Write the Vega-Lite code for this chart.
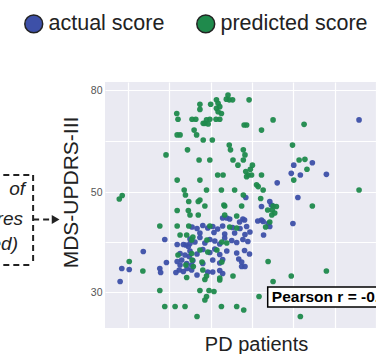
{
"$schema":"https://vega.github.io/schema/vega-lite/v6.json",
"width":271,"height":246,
"autosize":{"type":"none"},
"padding":{"left":105,"top":82,"right":0,"bottom":26},
"background":"white",
"config":{"view":{"fill":"#EAEAF2","stroke":null},"axis":{"domain":false,"ticks":false,"gridColor":"white","gridWidth":1.2,"labelFont":"Liberation Sans","titleFont":"Liberation Sans"}},
"datasets":{
"pts":[
{"x":65.9,"y":71.2,"c":"actual score"},{"x":50.1,"y":57.9,"c":"actual score"},{"x":49.5,"y":55.5,"c":"actual score"},{"x":51.7,"y":55.0,"c":"actual score"},{"x":54.6,"y":58.6,"c":"actual score"},{"x":58.0,"y":55.2,"c":"actual score"},{"x":46.1,"y":52.7,"c":"actual score"},{"x":51.1,"y":48.9,"c":"actual score"},{"x":44.3,"y":48.1,"c":"actual score"},{"x":44.7,"y":47.4,"c":"actual score"},{"x":42.3,"y":47.1,"c":"actual score"},{"x":38.5,"y":48.9,"c":"actual score"},
{"x":18.9,"y":40.5,"c":"actual score"},{"x":13.7,"y":38.1,"c":"actual score"},{"x":8.5,"y":34.7,"c":"actual score"},{"x":10.3,"y":34.5,"c":"actual score"},{"x":8.1,"y":32.1,"c":"actual score"},{"x":17.7,"y":34.7,"c":"actual score"},{"x":17.9,"y":33.9,"c":"actual score"},{"x":19.3,"y":35.9,"c":"actual score"},{"x":21.9,"y":39.5,"c":"actual score"},{"x":23.4,"y":39.5,"c":"actual score"},{"x":24.0,"y":39.4,"c":"actual score"},{"x":24.6,"y":39.1,"c":"actual score"},{"x":25.0,"y":39.7,"c":"actual score"},{"x":49.9,"y":43.7,"c":"actual score"},{"x":42.3,"y":44.4,"c":"actual score"},{"x":42.7,"y":44.1,"c":"actual score"},{"x":32.9,"y":44.8,"c":"actual score"},{"x":33.9,"y":44.8,"c":"actual score"},{"x":34.6,"y":44.6,"c":"actual score"},{"x":37.8,"y":44.6,"c":"actual score"},{"x":38.2,"y":44.4,"c":"actual score"},{"x":37.0,"y":44.0,"c":"actual score"},{"x":41.4,"y":44.2,"c":"actual score"},{"x":43.9,"y":43.7,"c":"actual score"},{"x":44.3,"y":43.1,"c":"actual score"},{"x":42.8,"y":41.4,"c":"actual score"},{"x":37.5,"y":35.1,"c":"actual score"},{"x":38.3,"y":35.1,"c":"actual score"},
{"x":25.5,"y":43.0,"c":"actual score"},{"x":26.7,"y":42.7,"c":"actual score"},{"x":28.1,"y":43.3,"c":"actual score"},{"x":29.3,"y":42.8,"c":"actual score"},{"x":30.5,"y":43.1,"c":"actual score"},{"x":31.7,"y":42.6,"c":"actual score"},{"x":32.9,"y":43.2,"c":"actual score"},{"x":35.3,"y":42.9,"c":"actual score"},{"x":37.1,"y":42.7,"c":"actual score"},{"x":38.7,"y":43.1,"c":"actual score"},
{"x":27.4,"y":41.8,"c":"actual score"},{"x":33.4,"y":41.6,"c":"actual score"},{"x":35.8,"y":41.8,"c":"actual score"},{"x":38.3,"y":41.5,"c":"actual score"},{"x":39.5,"y":42.0,"c":"actual score"},{"x":30.8,"y":41.9,"c":"actual score"},
{"x":25.0,"y":40.6,"c":"actual score"},{"x":26.2,"y":40.0,"c":"actual score"},{"x":27.4,"y":40.9,"c":"actual score"},{"x":28.6,"y":39.8,"c":"actual score"},{"x":29.8,"y":40.5,"c":"actual score"},{"x":31.0,"y":40.2,"c":"actual score"},{"x":32.2,"y":39.6,"c":"actual score"},{"x":33.4,"y":40.8,"c":"actual score"},{"x":35.1,"y":40.3,"c":"actual score"},{"x":36.3,"y":39.9,"c":"actual score"},{"x":37.8,"y":40.5,"c":"actual score"},{"x":39.0,"y":40.1,"c":"actual score"},
{"x":25.0,"y":38.2,"c":"actual score"},{"x":26.7,"y":37.6,"c":"actual score"},{"x":28.1,"y":38.5,"c":"actual score"},{"x":29.8,"y":37.9,"c":"actual score"},{"x":31.0,"y":38.6,"c":"actual score"},{"x":32.2,"y":37.5,"c":"actual score"},{"x":33.9,"y":38.2,"c":"actual score"},{"x":36.3,"y":37.8,"c":"actual score"},{"x":38.2,"y":38.3,"c":"actual score"},{"x":39.4,"y":37.6,"c":"actual score"},
{"x":25.7,"y":36.3,"c":"actual score"},{"x":28.1,"y":35.7,"c":"actual score"},{"x":30.5,"y":36.4,"c":"actual score"},{"x":32.2,"y":35.8,"c":"actual score"},{"x":32.9,"y":36.5,"c":"actual score"},{"x":37.5,"y":36.0,"c":"actual score"},{"x":36.8,"y":36.6,"c":"actual score"},
{"x":30.5,"y":34.0,"c":"actual score"},{"x":32.2,"y":34.3,"c":"actual score"},{"x":32.9,"y":33.7,"c":"actual score"},{"x":26.7,"y":33.4,"c":"actual score"},{"x":29.3,"y":34.0,"c":"actual score"},
{"x":22.6,"y":37.7,"c":"actual score"},{"x":23.8,"y":37.4,"c":"actual score"},{"x":24.8,"y":37.1,"c":"actual score"},{"x":21.9,"y":36.1,"c":"actual score"},{"x":23.0,"y":36.4,"c":"actual score"},{"x":22.6,"y":35.4,"c":"actual score"},{"x":24.2,"y":35.7,"c":"actual score"},{"x":25.4,"y":35.4,"c":"actual score"},{"x":22.4,"y":34.4,"c":"actual score"},{"x":23.4,"y":34.1,"c":"actual score"},{"x":21.6,"y":33.9,"c":"actual score"},{"x":24.3,"y":34.7,"c":"actual score"},{"x":25.4,"y":34.4,"c":"actual score"},
{"x":7.9,"y":48.6,"c":"predicted score"},{"x":8.6,"y":49.3,"c":"predicted score"},{"x":19.2,"y":60.9,"c":"predicted score"},{"x":21.8,"y":73.1,"c":"predicted score"},{"x":22.1,"y":71.4,"c":"predicted score"},{"x":21.9,"y":66.8,"c":"predicted score"},{"x":22.6,"y":66.8,"c":"predicted score"},{"x":24.4,"y":62.4,"c":"predicted score"},{"x":21.9,"y":53.5,"c":"predicted score"},{"x":23.6,"y":50.6,"c":"predicted score"},{"x":23.9,"y":49.4,"c":"predicted score"},{"x":21.9,"y":46.3,"c":"predicted score"},{"x":24.6,"y":46.3,"c":"predicted score"},{"x":25.5,"y":71.4,"c":"predicted score"},{"x":26.4,"y":71.4,"c":"predicted score"},{"x":26.0,"y":68.2,"c":"predicted score"},{"x":26.6,"y":66.8,"c":"predicted score"},{"x":27.2,"y":59.4,"c":"predicted score"},{"x":29.8,"y":59.4,"c":"predicted score"},{"x":27.4,"y":53.5,"c":"predicted score"},{"x":27.4,"y":75.8,"c":"predicted score"},{"x":27.4,"y":74.3,"c":"predicted score"},{"x":28.2,"y":70.2,"c":"predicted score"},{"x":28.6,"y":70.2,"c":"predicted score"},{"x":28.2,"y":65.3,"c":"predicted score"},{"x":30.4,"y":65.3,"c":"predicted score"},{"x":29.0,"y":71.2,"c":"predicted score"},{"x":29.4,"y":70.0,"c":"predicted score"},{"x":30.0,"y":75.8,"c":"predicted score"},{"x":31.4,"y":77.1,"c":"predicted score"},{"x":31.8,"y":76.1,"c":"predicted score"},{"x":31.4,"y":74.6,"c":"predicted score"},{"x":32.2,"y":75.1,"c":"predicted score"},{"x":31.8,"y":73.6,"c":"predicted score"},{"x":32.6,"y":73.1,"c":"predicted score"},{"x":31.3,"y":71.4,"c":"predicted score"},{"x":32.2,"y":71.4,"c":"predicted score"},{"x":29.8,"y":71.4,"c":"predicted score"},{"x":29.0,"y":50.6,"c":"predicted score"},{"x":27.4,"y":48.4,"c":"predicted score"},{"x":28.6,"y":47.2,"c":"predicted score"},{"x":24.7,"y":48.1,"c":"predicted score"},{"x":27.0,"y":48.1,"c":"predicted score"},{"x":34.2,"y":78.5,"c":"predicted score"},{"x":34.5,"y":77.1,"c":"predicted score"},{"x":35.3,"y":77.1,"c":"predicted score"},{"x":33.8,"y":77.3,"c":"predicted score"},{"x":39.3,"y":77.1,"c":"predicted score"},{"x":32.6,"y":50.6,"c":"predicted score"},{"x":31.7,"y":55.0,"c":"predicted score"},{"x":33.0,"y":55.0,"c":"predicted score"},{"x":34.5,"y":63.8,"c":"predicted score"},{"x":34.8,"y":62.4,"c":"predicted score"},{"x":35.4,"y":59.4,"c":"predicted score"},{"x":36.6,"y":57.9,"c":"predicted score"},{"x":37.9,"y":62.4,"c":"predicted score"},{"x":38.3,"y":60.9,"c":"predicted score"},{"x":37.9,"y":59.4,"c":"predicted score"},{"x":38.5,"y":56.0,"c":"predicted score"},{"x":39.1,"y":55.0,"c":"predicted score"},{"x":38.7,"y":54.5,"c":"predicted score"},{"x":39.6,"y":56.7,"c":"predicted score"},{"x":39.9,"y":55.0,"c":"predicted score"},{"x":40.1,"y":57.9,"c":"predicted score"},{"x":35.8,"y":50.6,"c":"predicted score"},{"x":37.9,"y":49.4,"c":"predicted score"},{"x":33.4,"y":47.2,"c":"predicted score"},{"x":37.5,"y":47.2,"c":"predicted score"},{"x":38.1,"y":69.7,"c":"predicted score"},{"x":38.7,"y":69.7,"c":"predicted score"},{"x":42.3,"y":68.2,"c":"predicted score"},{"x":45.1,"y":71.2,"c":"predicted score"},{"x":42.3,"y":55.0,"c":"predicted score"},{"x":41.1,"y":52.1,"c":"predicted score"},{"x":41.5,"y":51.6,"c":"predicted score"},{"x":42.7,"y":50.6,"c":"predicted score"},{"x":42.1,"y":48.7,"c":"predicted score"},{"x":45.1,"y":47.2,"c":"predicted score"},{"x":45.9,"y":47.1,"c":"predicted score"},{"x":44.9,"y":46.4,"c":"predicted score"},{"x":49.8,"y":63.8,"c":"predicted score"},{"x":51.4,"y":59.4,"c":"predicted score"},{"x":52.8,"y":59.6,"c":"predicted score"},{"x":50.1,"y":53.5,"c":"predicted score"},{"x":52.6,"y":69.9,"c":"predicted score"},{"x":53.3,"y":56.7,"c":"predicted score"},{"x":54.6,"y":47.2,"c":"predicted score"},{"x":65.9,"y":50.6,"c":"predicted score"},
{"x":17.7,"y":43.2,"c":"predicted score"},{"x":21.9,"y":43.2,"c":"predicted score"},{"x":24.7,"y":43.2,"c":"predicted score"},{"x":22.6,"y":41.4,"c":"predicted score"},{"x":24.2,"y":41.4,"c":"predicted score"},{"x":10.3,"y":36.1,"c":"predicted score"},{"x":13.6,"y":34.2,"c":"predicted score"},{"x":17.7,"y":30.3,"c":"predicted score"},{"x":18.9,"y":27.1,"c":"predicted score"},{"x":21.4,"y":27.1,"c":"predicted score"},{"x":23.8,"y":27.1,"c":"predicted score"},{"x":24.2,"y":32.9,"c":"predicted score"},{"x":27.0,"y":45.4,"c":"predicted score"},{"x":33.2,"y":47.4,"c":"predicted score"},{"x":33.4,"y":45.4,"c":"predicted score"},{"x":36.3,"y":45.2,"c":"predicted score"},{"x":25.0,"y":45.4,"c":"predicted score"},{"x":27.4,"y":30.3,"c":"predicted score"},{"x":29.0,"y":29.1,"c":"predicted score"},{"x":29.6,"y":30.3,"c":"predicted score"},{"x":30.8,"y":30.1,"c":"predicted score"},{"x":28.6,"y":28.4,"c":"predicted score"},{"x":26.7,"y":25.1,"c":"predicted score"},{"x":32.6,"y":27.1,"c":"predicted score"},{"x":36.3,"y":27.1,"c":"predicted score"},{"x":38.0,"y":26.4,"c":"predicted score"},{"x":35.4,"y":33.2,"c":"predicted score"},{"x":32.2,"y":32.4,"c":"predicted score"},{"x":28.6,"y":32.5,"c":"predicted score"},{"x":29.0,"y":33.2,"c":"predicted score"},{"x":43.9,"y":36.1,"c":"predicted score"},{"x":45.1,"y":32.1,"c":"predicted score"},{"x":41.7,"y":29.1,"c":"predicted score"},{"x":49.5,"y":33.2,"c":"predicted score"},{"x":58.0,"y":34.2,"c":"predicted score"},{"x":51.7,"y":25.1,"c":"predicted score"},{"x":43.8,"y":46.4,"c":"predicted score"},{"x":44.8,"y":45.4,"c":"predicted score"},{"x":44.3,"y":44.0,"c":"predicted score"},{"x":43.3,"y":43.0,"c":"predicted score"},{"x":45.5,"y":45.8,"c":"predicted score"},
{"x":29.8,"y":43.2,"c":"predicted score"},{"x":34.6,"y":43.0,"c":"predicted score"},{"x":36.3,"y":42.8,"c":"predicted score"},{"x":25.7,"y":41.0,"c":"predicted score"},{"x":29.1,"y":40.4,"c":"predicted score"},{"x":32.7,"y":40.0,"c":"predicted score"},{"x":33.9,"y":39.8,"c":"predicted score"},{"x":27.4,"y":38.4,"c":"predicted score"},{"x":29.3,"y":38.0,"c":"predicted score"},{"x":31.5,"y":38.4,"c":"predicted score"},{"x":25.5,"y":36.4,"c":"predicted score"},{"x":27.9,"y":36.0,"c":"predicted score"},{"x":32.7,"y":36.0,"c":"predicted score"},{"x":28.1,"y":34.4,"c":"predicted score"},{"x":32.2,"y":32.8,"c":"predicted score"},{"x":24.0,"y":35.4,"c":"predicted score"},{"x":22.1,"y":37.4,"c":"predicted score"},{"x":25.4,"y":40.4,"c":"predicted score"},{"x":25.4,"y":37.7,"c":"predicted score"},{"x":25.8,"y":35.1,"c":"predicted score"}
],
"box":[{"x":-25,"x2":-12.95,"y":55.0,"y2":55.0},{"x":-12.95,"x2":-12.95,"y":55.0,"y2":35.4},{"x":-25,"x2":-12.95,"y":35.4,"y2":35.4},{"x":-12.95,"x2":-8.8,"y":44.5,"y2":44.5}],
"frag":[{"x":-14.9,"y":50.9,"t":"Distribution\u00a0\u00a0of"},{"x":-15.4,"y":44.6,"t":"scores"},{"x":-16.6,"y":39.7,"t":"(predicted)"}]
},
"encoding":{
"x":{"field":"x","type":"quantitative","scale":{"domain":[4.44,70],"nice":false,"zero":false},"axis":{"values":[10,20,30,40,50,60,70],"labels":false,"title":"PD patients","titleFontSize":20,"titleFontWeight":"normal","titleColor":"#222","titleX":151,"titleY":22,"titleBaseline":"alphabetic","titleAlign":"center"}},
"y":{"field":"y","type":"quantitative","scale":{"domain":[22.8,30,50,80,82.35],"range":[246,210,110,8,0],"nice":false,"zero":false},"axis":{"values":[30,40,50,65,80],"labelExpr":"datum.value==40||datum.value==65?'':datum.label","labelFontSize":10.5,"labelColor":"#555","labelPadding":3,"title":"MDS-UPDRS-III","titleFontSize":21,"titleFontWeight":"normal","titleColor":"#222","titleX":-34,"titleY":110,"titleAngle":-90,"titleAlign":"center","titleBaseline":"middle"}}
},
"layer":[
{"data":{"name":"pts"},"mark":{"type":"point","filled":true,"size":32,"opacity":0.95},
 "encoding":{"color":{"field":"c","type":"nominal","scale":{"domain":["actual score","predicted score"],"range":["#3d50a8","#1f8a4c"]},
 "legend":{"orient":"none","legendX":-82,"legendY":-69,"direction":"horizontal","title":null,"symbolType":"circle","symbolSize":300,"symbolOpacity":1,"labelFontSize":21.5,"labelFont":"Liberation Sans","labelColor":"#222","columnPadding":28,"labelOffset":4,"symbolStrokeColor":"#222","symbolStrokeWidth":1.5,"padding":0,
 "encode":{"symbols":{"update":{"size":{"value":320},"stroke":{"value":"#222"},"strokeWidth":{"value":1.5},"opacity":{"value":1}}}}}}}},
{"data":{"values":[{"x":43.8,"x2":80,"y":31.0,"y2":27.0}]},"mark":{"type":"rect","fill":"white","stroke":"black","strokeWidth":1.5,"clip":true},"encoding":{"x2":{"field":"x2"},"y2":{"field":"y2"}}},
{"data":{"values":[{"x":44.8,"y":29.0,"t":"Pearson r = -0.12"}]},"mark":{"type":"text","align":"left","baseline":"middle","font":"Liberation Sans","fontSize":15.5,"fontWeight":"bold","color":"black","clip":true},"encoding":{"text":{"field":"t"}}},
{"data":{"name":"box"},"mark":{"type":"rule","color":"#222","strokeWidth":2,"strokeDash":[6,4]},"encoding":{"x2":{"field":"x2"},"y2":{"field":"y2"}}},
{"data":{"values":[{"x":-7.5,"y":44.5}]},"mark":{"type":"point","shape":"triangle-right","filled":true,"size":80,"color":"#222","opacity":1},"encoding":{}},
{"data":{"name":"frag"},"mark":{"type":"text","align":"right","baseline":"middle","font":"Liberation Sans","fontSize":19,"fontStyle":"italic","color":"#222"},"encoding":{"text":{"field":"t"}}}
]
}
